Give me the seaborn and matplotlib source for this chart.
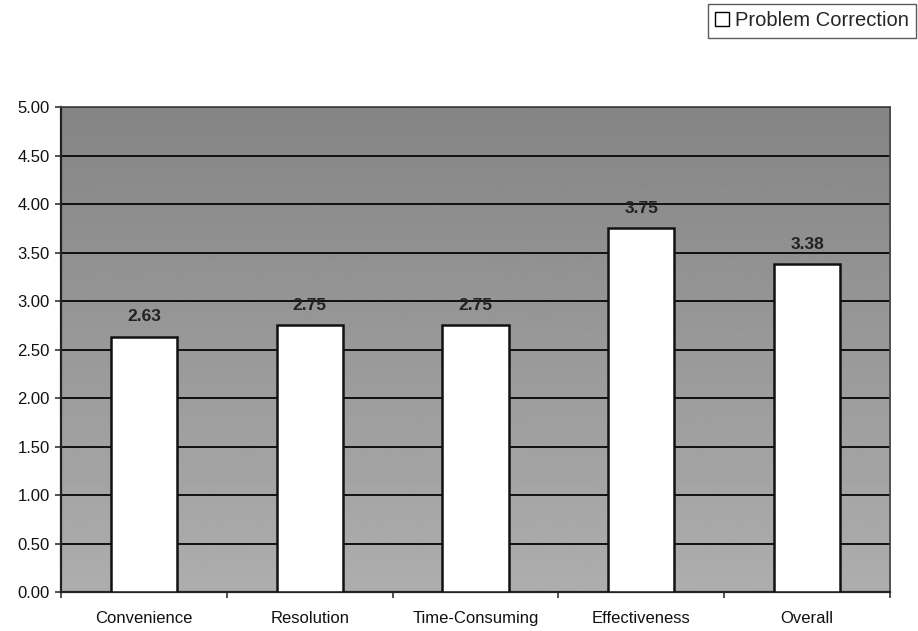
import matplotlib
matplotlib.use("Agg")
import matplotlib.pyplot as plt
from matplotlib.patches import Patch
from matplotlib.ticker import FixedLocator
import numpy as np
import pandas as pd
import seaborn as sns

categories = ["Convenience", "Resolution", "Time-Consuming", "Effectiveness", "Overall"]
scores = [2.63, 2.75, 2.75, 3.75, 3.38]
series_name = "Problem Correction"
y_ticks = [0.0, 0.5, 1.0, 1.5, 2.0, 2.5, 3.0, 3.5, 4.0, 4.5, 5.0]

df = pd.DataFrame({"Category": categories, "Score": scores})

sns.set_theme(style="white")
plt.rcParams["font.family"] = ["Liberation Sans", "DejaVu Sans"]

fig = plt.figure(figsize=(9.18, 6.31), dpi=100)
ax = fig.add_axes([0.0664, 0.0618, 0.9031, 0.7686])

# grey plot area, a little darker toward the top
shade = np.linspace(0.68, 0.52, 256).reshape(-1, 1)
ax.imshow(shade, cmap="gray", vmin=0, vmax=1, aspect="auto",
          extent=[0, 1, 0, 1], transform=ax.transAxes, origin="lower", zorder=0)

sns.barplot(data=df, x="Category", y="Score", color="white", edgecolor="#111111",
            linewidth=1.8, width=0.4, saturation=1, ax=ax, zorder=3)

ax.set_xlim(-0.5, len(categories) - 0.5)
ax.set_ylim(0, 5)
ax.set_yticks(y_ticks)
ax.set_yticklabels([f"{t:.2f}" for t in y_ticks], fontsize=12, color="#111111")
ax.yaxis.grid(True, color="#111111", linewidth=1.4, zorder=1)
ax.set_axisbelow(True)
ax.set_xlabel("")
ax.set_ylabel("")

ax.tick_params(axis="x", which="major", length=0, labelsize=12, pad=14, labelcolor="#111111")
ax.xaxis.set_minor_locator(FixedLocator([i + 0.5 for i in range(-1, len(categories))]))
ax.tick_params(axis="x", which="minor", length=4, width=1.2, color="#333333", bottom=True)
ax.tick_params(axis="y", which="major", length=4, width=1.2, color="#333333", left=True, pad=4)

for side in ["left", "bottom"]:
    ax.spines[side].set_color("#222222")
    ax.spines[side].set_linewidth(1.6)
for side in ["top", "right"]:
    ax.spines[side].set_color("#444444")
    ax.spines[side].set_linewidth(1.2)

for i, v in enumerate(scores):
    ax.text(i, v + 0.13, f"{v:.2f}", ha="center", va="bottom",
            fontsize=12.5, fontweight="bold", color="#222222", zorder=4)

handle = Patch(facecolor="white", edgecolor="black", linewidth=1.0)
leg = fig.legend([handle], [series_name], loc="upper right",
                 bbox_to_anchor=(0.998, 0.993), frameon=True, fancybox=False,
                 fontsize=14.5, handlelength=0.7, handleheight=0.7, handletextpad=0.3,
                 borderpad=0.35, borderaxespad=0)
leg.get_frame().set_edgecolor("#333333")
leg.get_frame().set_linewidth(1.0)

fig.savefig("out.png", dpi=100, facecolor="white")
